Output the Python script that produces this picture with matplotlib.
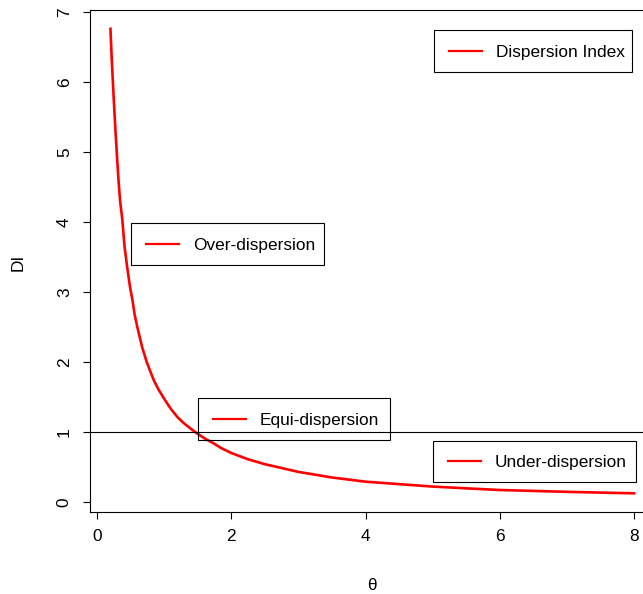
import matplotlib
matplotlib.use("Agg")
import matplotlib.pyplot as plt
from matplotlib.lines import Line2D
from matplotlib.patches import Rectangle

plt.rcParams['font.family'] = ['Liberation Sans', 'DejaVu Sans']

# Data
theta = [0.2, 0.22, 0.25, 0.275, 0.3, 0.32, 0.343, 0.377, 0.41, 0.45, 0.49,
         0.527, 0.56, 0.6, 0.67, 0.74, 0.8, 0.85, 0.92, 1.01, 1.1, 1.2, 1.3,
         1.46, 1.6, 1.75, 1.85, 2.0, 2.25, 2.5, 2.75, 3.0, 3.25, 3.5, 3.75,
         4.0, 4.5, 5.0, 5.5, 6.0, 6.5, 7.0, 7.5, 8.0]
di = [6.76, 6.31, 5.74, 5.3, 4.9, 4.6, 4.31, 4.03, 3.65, 3.35, 3.08,
      2.89, 2.68, 2.5, 2.22, 2.0, 1.85, 1.73, 1.6, 1.46, 1.33, 1.21, 1.12,
      1.0, 0.91, 0.83, 0.77, 0.70, 0.61, 0.54, 0.485, 0.43, 0.39, 0.35, 0.32,
      0.29, 0.255, 0.22, 0.195, 0.171, 0.158, 0.145, 0.134, 0.124]
xticks = [0, 2, 4, 6, 8]
yticks = [0, 1, 2, 3, 4, 5, 6, 7]
ref_level = 1
legend_labels = ["Dispersion Index", "Over-dispersion", "Equi-dispersion", "Under-dispersion"]

W, H = 643, 594
fig = plt.figure(figsize=(W / 100, H / 100), dpi=100)

def fx(x):
    return x / W

def fy(y):
    return 1 - y / H

ax = fig.add_axes([fx(89.5), fy(511.5), (655 - 89.5) / W, (511.5 - 9.5) / H])
ax.plot(theta, di, color='red', lw=1.9, solid_joinstyle='round')
ax.axhline(ref_level, color='black', lw=0.8)

ax.set_xlim(-0.112, 8.312)
ax.set_ylim(-0.136, 7.036)
ax.set_xticks(xticks)
ax.set_yticks(yticks)
for s in ax.spines.values():
    s.set_linewidth(0.8)
ax.tick_params(length=5, width=0.8, pad=7.7, labelsize=12.4, colors='black')
for lab in ax.get_yticklabels():
    lab.set_rotation(90)
    lab.set_va('center')

fig.text(fx(18), fy(262), "DI", rotation=90, ha='center', va='center', fontsize=12.4)
fig.text(fx(372), fy(586), "θ", ha='center', va='center', fontsize=12.4)

# legend boxes (x0, y0, x1, y1) in pixels
boxes = [(434, 30, 632, 72), (131, 223, 324, 265), (198, 398, 390, 440), (433, 441, 636, 481.5)]
for (x0, y0, x1, y1), lab in zip(boxes, legend_labels):
    fig.add_artist(Rectangle((fx(x0), fy(y1)), fx(x1) - fx(x0), fy(y0) - fy(y1),
                             transform=fig.transFigure, fill=False,
                             edgecolor='black', lw=0.8))
    yc = (y0 + y1) / 2
    fig.add_artist(Line2D([fx(x0 + 15), fx(x0 + 48)], [fy(yc), fy(yc)],
                          transform=fig.transFigure, color='red', lw=1.6))
    fig.text(fx(x0 + 62), fy(yc + 1.5), lab, ha='left', va='center', fontsize=12.4)

fig.savefig("out.png", dpi=100)
